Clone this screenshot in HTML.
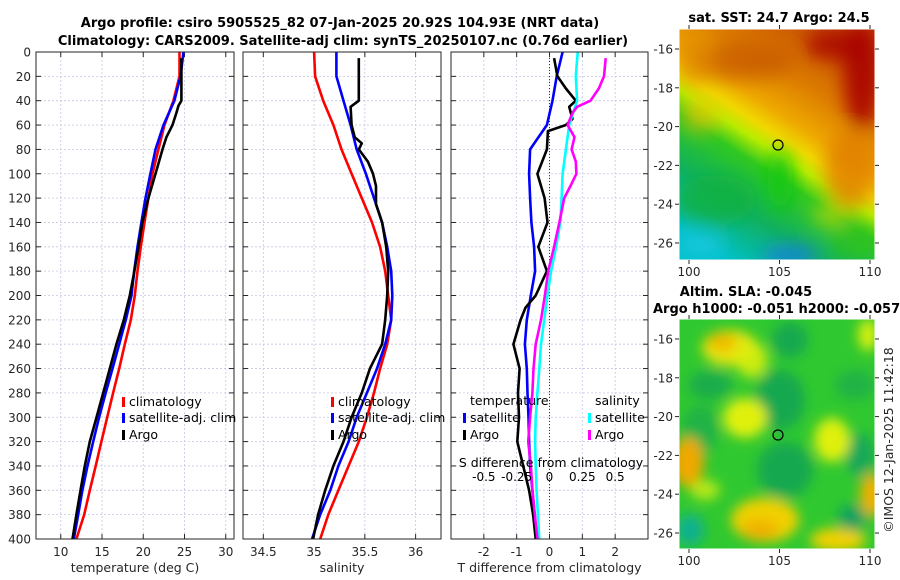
<!DOCTYPE html>
<html><head><meta charset="utf-8"><style>
html,body{margin:0;padding:0;background:#fff;}
svg{display:block;font-family:"DejaVu Sans","Liberation Sans",sans-serif;}
</style></head><body>
<svg id="fig" width="900" height="580" viewBox="0 0 900 580" xmlns="http://www.w3.org/2000/svg">
<defs>
<filter id="blur1" x="-50%" y="-50%" width="200%" height="200%"><feGaussianBlur stdDeviation="9"/></filter>
<filter id="blur2" x="-50%" y="-50%" width="200%" height="200%"><feGaussianBlur stdDeviation="6"/></filter>
<linearGradient id="sstGrad" x1="0.8" y1="0" x2="0.25" y2="1">
<stop offset="0" stop-color="#c44800"/><stop offset="0.25" stop-color="#dc7c00"/><stop offset="0.4" stop-color="#eea800"/><stop offset="0.48" stop-color="#f0d800"/><stop offset="0.54" stop-color="#b8ec00"/><stop offset="0.62" stop-color="#30c820"/><stop offset="0.8" stop-color="#10b060"/><stop offset="1" stop-color="#00c0c8"/>
</linearGradient>
<clipPath id="clipMap1"><rect x="679" y="29" width="196" height="231"/></clipPath>
<clipPath id="clipMap2"><rect x="679" y="319" width="196" height="230"/></clipPath>
</defs>
<g font-weight="bold" font-size="13" fill="#000" text-anchor="middle">
<text x="340" y="27">Argo profile: csiro 5905525_82 07-Jan-2025 20.92S 104.93E (NRT data)</text>
<text x="343" y="45">Climatology: CARS2009. Satellite-adj clim: synTS_20250107.nc (0.76d earlier)</text>
</g>
<g id="panels"></g>
<!-- SST map -->
<g>
<text x="779" y="22" text-anchor="middle" font-weight="bold" font-size="13">sat. SST: 24.7 Argo: 24.5</text>
<g clip-path="url(#clipMap1)">
<rect x="679" y="29" width="196" height="231" fill="url(#sstGrad)"/>
<g filter="url(#blur1)">
<ellipse cx="745" cy="60" rx="50" ry="20" fill="#c85a00" opacity="0.8"/>
<ellipse cx="695" cy="60" rx="20" ry="25" fill="#e08800" opacity="0.7"/>
<ellipse cx="862" cy="75" rx="18" ry="55" fill="#a80400" opacity="0.9"/>
<ellipse cx="835" cy="45" rx="30" ry="15" fill="#a80800" opacity="0.8"/>
<ellipse cx="850" cy="170" rx="25" ry="40" fill="#e07c00" opacity="0.8"/>
<ellipse cx="700" cy="115" rx="20" ry="18" fill="#f0c000" opacity="0.6"/>
<ellipse cx="780" cy="180" rx="12" ry="30" fill="#10c810" opacity="0.9"/>
<ellipse cx="715" cy="200" rx="40" ry="25" fill="#10b040" opacity="0.8"/>
<ellipse cx="790" cy="255" rx="28" ry="10" fill="#1a80e0" opacity="0.9"/>
<ellipse cx="700" cy="245" rx="25" ry="15" fill="#20c8e0" opacity="0.7"/>
<ellipse cx="855" cy="240" rx="25" ry="15" fill="#30c020" opacity="0.7"/>
<ellipse cx="830" cy="215" rx="18" ry="10" fill="#e8e000" opacity="0.6"/>
</g>
</g>
<rect x="679" y="29" width="196" height="231" fill="none" stroke="#fff" stroke-width="1"/>
<circle cx="778" cy="145" r="5" fill="none" stroke="#000" stroke-width="1.2"/>
</g>
<!-- SLA map -->
<g>
<text x="746" y="296" text-anchor="middle" font-weight="bold" font-size="13">Altim. SLA: -0.045</text>
<text x="653" y="313" font-weight="bold" font-size="13">Argo h1000: -0.051 h2000: -0.057</text>
<g clip-path="url(#clipMap2)">
<rect x="679" y="319" width="196" height="230" fill="#30c830"/>
<g filter="url(#blur2)">
<ellipse cx="790" cy="340" rx="18" ry="18" fill="#18a850"/>
<ellipse cx="710" cy="385" rx="22" ry="14" fill="#18a850" opacity="0.9"/>
<ellipse cx="780" cy="400" rx="25" ry="30" fill="#18a850"/>
<ellipse cx="785" cy="470" rx="28" ry="28" fill="#18a850"/>
<ellipse cx="700" cy="430" rx="18" ry="25" fill="#20b048" opacity="0.9"/>
<ellipse cx="855" cy="385" rx="20" ry="15" fill="#20b048" opacity="0.9"/>
<ellipse cx="860" cy="455" rx="14" ry="22" fill="#18a858"/>
<ellipse cx="730" cy="348" rx="28" ry="18" fill="#e8e410"/>
<ellipse cx="722" cy="342" rx="14" ry="9" fill="#f0b800"/>
<ellipse cx="752" cy="360" rx="16" ry="18" fill="#d8ee10" opacity="0.9"/>
<ellipse cx="745" cy="418" rx="22" ry="20" fill="#e0f010"/>
<ellipse cx="688" cy="462" rx="16" ry="25" fill="#f0a800"/>
<ellipse cx="832" cy="440" rx="18" ry="22" fill="#e0f010"/>
<ellipse cx="765" cy="520" rx="34" ry="22" fill="#f0d000"/>
<ellipse cx="760" cy="530" rx="18" ry="10" fill="#f0b000"/>
<ellipse cx="838" cy="540" rx="28" ry="12" fill="#f0d000"/>
<ellipse cx="690" cy="530" rx="14" ry="16" fill="#10b090"/>
<ellipse cx="852" cy="518" rx="14" ry="13" fill="#10a060"/>
<ellipse cx="868" cy="335" rx="10" ry="16" fill="#d8f010"/>
<ellipse cx="872" cy="495" rx="12" ry="22" fill="#f0b000"/>
<ellipse cx="705" cy="490" rx="15" ry="10" fill="#d8f010" opacity="0.8"/>
</g>
</g>
<rect x="679" y="319" width="196" height="230" fill="none" stroke="#fff" stroke-width="1"/>
<circle cx="778" cy="435" r="5" fill="none" stroke="#000" stroke-width="1.2"/>
</g>
<g id="mapAxes" font-size="12" fill="#262626"></g>
<text x="893" y="440" transform="rotate(-90 893 440)" text-anchor="middle" font-size="12.5" fill="#262626">©IMOS 12-Jan-2025 11:42:18</text>
</svg>
<script>
// ---- data ----
const depthStd = [0,20,40,60,80,100,120,140,160,180,200,220,240,260,280,300,320,340,360,380,400];
const tempClim = [24.39,24.39,23.66,22.57,21.84,21.12,20.63,20.15,19.7,19.3,18.97,18.49,17.76,17.08,16.35,15.63,14.93,14.24,13.52,12.84,11.9];
const tempSat  = [24.88,24.51,23.78,22.45,21.48,20.87,20.27,19.78,19.3,18.9,18.57,17.88,17.08,16.27,15.45,14.65,13.93,13.24,12.63,12.11,11.58];
const depthArgoT = [5,20,40,44,50,60,70,80,100,120,140,160,180,200,220,240,260,280,300,320,340,360,380,400];
const tempArgo = [24.63,24.63,24.63,24.27,24.02,23.54,22.81,22.33,21.48,20.63,19.9,19.42,18.93,18.37,17.64,16.75,15.94,15.14,14.33,13.52,12.91,12.39,11.9,11.42];
const salClim = [35.0,35.01,35.09,35.19,35.27,35.37,35.47,35.57,35.65,35.7,35.73,35.76,35.72,35.65,35.59,35.52,35.44,35.34,35.24,35.14,35.06];
const salSat  = [35.22,35.22,35.29,35.36,35.42,35.51,35.59,35.67,35.72,35.76,35.77,35.76,35.7,35.62,35.52,35.42,35.34,35.24,35.16,35.06,34.98];
const depthArgoS = [5,40,45,60,70,75,80,90,100,110,125,140,160,180,200,220,240,260,280,300,320,340,360,380,400];
const salArgo = [35.44,35.44,35.36,35.37,35.4,35.47,35.44,35.53,35.58,35.61,35.61,35.67,35.71,35.73,35.72,35.7,35.67,35.55,35.47,35.37,35.29,35.19,35.11,35.04,34.99];
const tDiffSat = [0.4,0.22,0.09,-0.08,-0.59,-0.62,-0.59,-0.55,-0.47,-0.44,-0.57,-0.69,-0.75,-0.69,-0.67,-0.64,-0.62,-0.59,-0.52,-0.45,-0.39];
const depthArgoDT = [5,20,30,40,45,55,60,65,80,100,120,140,160,180,200,210,220,240,260,280,300,320,340,360,380,400];
const tDiffArgo = [0.14,0.24,0.5,0.8,0.6,0.7,0.5,-0.05,-0.08,-0.37,-0.15,-0.06,-0.34,-0.08,-0.42,-0.73,-0.88,-1.1,-0.91,-0.96,-0.93,-0.98,-0.8,-0.62,-0.5,-0.42];
const sDiffSat = [0.215,0.2,0.21,0.15,0.125,0.1,0.092,0.082,0.05,0.012,-0.015,-0.04,-0.065,-0.078,-0.092,-0.105,-0.11,-0.105,-0.098,-0.088,-0.078];
const depthArgoDS = [5,20,30,40,45,50,60,70,80,90,100,110,120,140,160,180,200,220,240,260,280,300,320,340,360,380,400];
const sDiffArgo = [0.428,0.415,0.375,0.312,0.21,0.175,0.138,0.19,0.168,0.2,0.205,0.16,0.112,0.075,0.035,-0.01,-0.035,-0.065,-0.105,-0.122,-0.13,-0.148,-0.162,-0.142,-0.13,-0.112,-0.092];
const depthTicks = [0,20,40,60,80,100,120,140,160,180,200,220,240,260,280,300,320,340,360,380,400];
const tempTicks = [10,15,20,25,30];
const salTicks = [34.5,35,35.5,36];
const tdTicks = [-2,-1,0,1,2];
const sdTickLabels = ["-0.5","-0.25","0","0.25","0.5"];
const sdTicks = [-0.5,-0.25,0,0.25,0.5];
const lonTicks = [100,105,110];
const latTicks = [-16,-18,-20,-22,-24,-26];

// ---- axes ----
const NS = 'http://www.w3.org/2000/svg';
const TOP = 52, BOT = 539;
const yD = d => TOP + (d / 400) * (BOT - TOP);
const panels = [
  {name:'temperature-panel', x0:36, x1:234, v0:7, v1:31, ticks:tempTicks, label:'temperature (deg C)'},
  {name:'salinity-panel', x0:243, x1:441, v0:34.3, v1:36.25, ticks:salTicks, label:'salinity'},
  {name:'difference-panel', x0:451, x1:648, v0:-3, v1:3, ticks:tdTicks, label:'T difference from climatology'}
];
panels.forEach(p => p.x = v => p.x0 + (v - p.v0) / (p.v1 - p.v0) * (p.x1 - p.x0));
function mk(tag, attrs, parent) {
  const e = document.createElementNS(NS, tag);
  for (const k in attrs) e.setAttribute(k, attrs[k]);
  parent.appendChild(e);
  return e;
}
const root = document.getElementById('panels');
panels.forEach((p, pi) => {
  const g = mk('g', {}, root);
  
  
  const grid = mk('g', {stroke:'#c4c8e4', 'stroke-width':'0.8', 'stroke-dasharray':'2,2'}, g);
  
  
  depthTicks.forEach(d => { mk('line', {x1:p.x0, x2:p.x1, y1:yD(d), y2:yD(d)}, grid); });
  p.ticks.forEach(v => { mk('line', {x1:p.x(v), x2:p.x(v), y1:TOP, y2:BOT}, grid); });
  const tk = mk('g', {stroke:'#262626', 'stroke-width':'1'}, g);
  depthTicks.forEach(d => {
    mk('line', {x1:p.x0, x2:p.x0+5, y1:yD(d), y2:yD(d)}, tk);
    mk('line', {x1:p.x1-5, x2:p.x1, y1:yD(d), y2:yD(d)}, tk);
  });
  p.ticks.forEach(v => {
    mk('line', {x1:p.x(v), x2:p.x(v), y1:BOT, y2:BOT-5}, tk);
    mk('line', {x1:p.x(v), x2:p.x(v), y1:TOP, y2:TOP+5}, tk);
    const t = mk('text', {x:p.x(v), y:556, 'text-anchor':'middle', 'font-size':'12', fill:'#262626'}, g);
    t.textContent = String(v);
    
    
  });
  const xl = mk('text', {x:(p.x0+p.x1)/2, y:572, 'text-anchor':'middle', 'font-size':'12.5', fill:'#262626'}, g);
  xl.textContent = p.label;
  
  
  if (pi === 0) {
    depthTicks.forEach(d => {
      const t = mk('text', {x:31, y:yD(d)+4.5, 'text-anchor':'end', 'font-size':'12', fill:'#262626'}, g);
      t.textContent = String(d);
      
      
    });
  }
  p.g = g;
});
function line(p, vals, depths, color, name) {
  const pts = vals.map((v, i) => p.x(v).toFixed(1) + ',' + yD(depths[i]).toFixed(1)).join(' ');
  const l = mk('polyline', {points:pts, fill:'none', stroke:color, 'stroke-width':'2.6', 'stroke-linejoin':'round'}, p.g);
  
  
}
const [P1, P2, P3] = panels;
line(P1, tempClim, depthStd, '#ff0000', 'temp-climatology-line');
line(P1, tempSat, depthStd, '#0000ff', 'temp-satellite-line');
line(P1, tempArgo, depthArgoT, '#000000', 'temp-argo-line');
line(P2, salClim, depthStd, '#ff0000', 'sal-climatology-line');
line(P2, salSat, depthStd, '#0000ff', 'sal-satellite-line');
line(P2, salArgo, depthArgoS, '#000000', 'sal-argo-line');
const zl = mk('line', {x1:P3.x(0), x2:P3.x(0), y1:TOP, y2:BOT, stroke:'#333', 'stroke-width':'1', 'stroke-dasharray':'1,2'}, P3.g);


line(P3, tDiffSat, depthStd, '#0000ff', 'tdiff-satellite-line');
line(P3, tDiffArgo, depthArgoDT, '#000000', 'tdiff-argo-line');
line(P3, sDiffSat.map(v => v*4), depthStd, '#00ffff', 'sdiff-satellite-line');
line(P3, sDiffArgo.map(v => v*4), depthArgoDS, '#ff00ff', 'sdiff-argo-line');
sdTicks.forEach((v, i) => {
  const t = mk('text', {x:P3.x(v*4), y:481, 'text-anchor':'middle', 'font-size':'12', fill:'#000'}, P3.g);
  t.textContent = sdTickLabels[i];
  
  
});
const st = mk('text', {x:551, y:467, 'text-anchor':'middle', 'font-size':'12.5', fill:'#000'}, P3.g);
st.textContent = 'S difference from climatology';


panels.forEach(p => {
  mk('rect', {x:p.x0, y:TOP, width:p.x1-p.x0, height:BOT-TOP, fill:'none', stroke:'#262626', 'stroke-width':'1'}, p.g);
});
function legend(p, x, y, color, label, name) {
  const g = mk('g', {}, p.g);
  
  
  if (color) mk('rect', {x:x-7, y:y-9, width:3, height:10, fill:color}, g);
  const t = mk('text', {x:x, y:y, 'font-size':'12.5', fill:'#000'}, g);
  t.textContent = label;
}
[[P1,129],[P2,338]].forEach(([p,x]) => {
  legend(p, x, 406, '#ff0000', 'climatology', 'legend-climatology');
  legend(p, x, 422, '#0000ff', 'satellite-adj. clim', 'legend-satellite-adj');
  legend(p, x, 439, '#000000', 'Argo', 'legend-argo');
});
legend(P3, 470, 405, null, 'temperature', 'legend-temperature-header');
legend(P3, 470, 422, '#0000ff', 'satellite', 'legend-temp-satellite');
legend(P3, 470, 439, '#000000', 'Argo', 'legend-temp-argo');
legend(P3, 595, 405, null, 'salinity', 'legend-salinity-header');
legend(P3, 595, 422, '#00ffff', 'satellite', 'legend-sal-satellite');
legend(P3, 595, 439, '#ff00ff', 'Argo', 'legend-sal-argo');
const ma = document.getElementById('mapAxes');
[{y0:29,y1:260,lat16:49,lat26:243},{y0:319,y1:549,lat16:339,lat26:533}].forEach((m, mi) => {
  const lonX = v => 689 + (v - 100) / 10 * (870 - 689);
  const latY = v => m.lat16 + (v + 16) / -10 * (m.lat26 - m.lat16);
  lonTicks.forEach(v => {
    mk('line', {x1:lonX(v), x2:lonX(v), y1:m.y1, y2:m.y1+4, stroke:'#262626'}, ma);
    mk('line', {x1:lonX(v), x2:lonX(v), y1:m.y0, y2:m.y0-4, stroke:'#262626'}, ma);
    const t = mk('text', {x:lonX(v), y:m.y1+16, 'text-anchor':'middle'}, ma);
    t.textContent = String(v);
    
    
  });
  latTicks.forEach(v => {
    mk('line', {x1:675, x2:679, y1:latY(v), y2:latY(v), stroke:'#262626'}, ma);
    mk('line', {x1:875, x2:879, y1:latY(v), y2:latY(v), stroke:'#262626'}, ma);
    const t = mk('text', {x:673, y:latY(v)+4.5, 'text-anchor':'end'}, ma);
    t.textContent = String(v);
    
    
  });
});
</script>
</body></html>
